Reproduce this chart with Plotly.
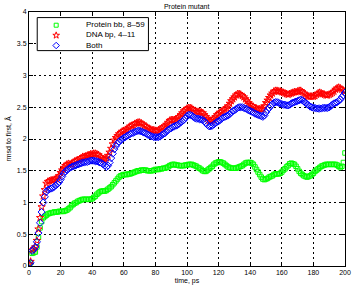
import plotly.graph_objects as go

time_ps = list(range(0, 201))

protein_bb = [
    0.03, 0.05, 0.20, 0.21, 0.22, 0.30, 0.45, 0.60, 0.70, 0.76,   # 0
    0.78, 0.80, 0.82, 0.83, 0.84, 0.84, 0.85, 0.85, 0.85, 0.86,   # 10
    0.86, 0.86, 0.86, 0.87, 0.88, 0.90, 0.92, 0.95, 0.97, 0.99,   # 20
    1.00, 1.02, 1.03, 1.04, 1.05, 1.05, 1.05, 1.05, 1.05, 1.05,   # 30
    1.06, 1.08, 1.10, 1.13, 1.15, 1.17, 1.18, 1.18, 1.18, 1.19,   # 40
    1.21, 1.23, 1.25, 1.28, 1.31, 1.34, 1.37, 1.40, 1.42, 1.43,   # 50
    1.44, 1.44, 1.44, 1.45, 1.45, 1.46, 1.47, 1.48, 1.49, 1.50,   # 60
    1.50, 1.51, 1.51, 1.51, 1.51, 1.50, 1.50, 1.50, 1.50, 1.51,   # 70
    1.52, 1.52, 1.52, 1.53, 1.53, 1.54, 1.54, 1.55, 1.56, 1.58,   # 80
    1.59, 1.60, 1.60, 1.59, 1.59, 1.58, 1.58, 1.58, 1.58, 1.59,   # 90
    1.59, 1.60, 1.60, 1.60, 1.59, 1.58, 1.57, 1.55, 1.54, 1.52,   # 100
    1.50, 1.49, 1.49, 1.51, 1.53, 1.55, 1.57, 1.60, 1.62, 1.63,   # 110
    1.64, 1.64, 1.63, 1.62, 1.60, 1.58, 1.56, 1.55, 1.54, 1.54,   # 120
    1.54, 1.54, 1.55, 1.56, 1.57, 1.58, 1.60, 1.62, 1.63, 1.63,   # 130
    1.63, 1.62, 1.60, 1.56, 1.52, 1.48, 1.44, 1.40, 1.37, 1.36,   # 140
    1.37, 1.38, 1.40, 1.41, 1.42, 1.44, 1.45, 1.45, 1.45, 1.46,   # 150
    1.48, 1.51, 1.53, 1.56, 1.58, 1.61, 1.62, 1.61, 1.60, 1.57,   # 160
    1.53, 1.49, 1.46, 1.44, 1.42, 1.41, 1.40, 1.41, 1.42, 1.44,   # 170
    1.46, 1.49, 1.51, 1.53, 1.55, 1.57, 1.58, 1.59, 1.60, 1.60,   # 180
    1.60, 1.60, 1.60, 1.60, 1.60, 1.59, 1.57, 1.55, 1.57, 1.63,   # 190
    1.78]                                                          # 200

dna_bp = [
    0.03, 0.07, 0.25, 0.27, 0.30, 0.40, 0.58, 0.76, 0.93, 1.10,   # 0
    1.20, 1.30, 1.33, 1.34, 1.35, 1.35, 1.36, 1.37, 1.39, 1.42,   # 10
    1.47, 1.51, 1.55, 1.58, 1.60, 1.61, 1.60, 1.61, 1.63, 1.65,   # 20
    1.66, 1.67, 1.68, 1.70, 1.72, 1.72, 1.73, 1.74, 1.75, 1.76,   # 30
    1.76, 1.77, 1.77, 1.76, 1.75, 1.72, 1.70, 1.68, 1.68, 1.70,   # 40
    1.74, 1.79, 1.85, 1.92, 1.98, 2.02, 2.05, 2.08, 2.10, 2.12,   # 50
    2.13, 2.14, 2.15, 2.18, 2.20, 2.21, 2.22, 2.24, 2.25, 2.26,   # 60
    2.26, 2.25, 2.23, 2.21, 2.20, 2.18, 2.16, 2.15, 2.14, 2.14,   # 70
    2.13, 2.13, 2.14, 2.15, 2.17, 2.19, 2.20, 2.23, 2.26, 2.29,   # 80
    2.30, 2.30, 2.30, 2.31, 2.33, 2.35, 2.38, 2.41, 2.44, 2.46,   # 90
    2.48, 2.49, 2.49, 2.48, 2.46, 2.44, 2.43, 2.43, 2.43, 2.42,   # 100
    2.41, 2.38, 2.35, 2.32, 2.29, 2.29, 2.30, 2.32, 2.35, 2.38,   # 110
    2.40, 2.42, 2.43, 2.45, 2.47, 2.49, 2.52, 2.56, 2.60, 2.63,   # 120
    2.66, 2.69, 2.71, 2.71, 2.70, 2.68, 2.66, 2.63, 2.60, 2.57,   # 130
    2.54, 2.52, 2.51, 2.49, 2.48, 2.47, 2.47, 2.47, 2.48, 2.52,   # 140
    2.57, 2.61, 2.65, 2.69, 2.72, 2.75, 2.76, 2.76, 2.75, 2.75,   # 150
    2.74, 2.73, 2.72, 2.71, 2.70, 2.71, 2.72, 2.73, 2.74, 2.74,   # 160
    2.75, 2.76, 2.76, 2.74, 2.72, 2.70, 2.68, 2.67, 2.67, 2.67,   # 170
    2.67, 2.68, 2.70, 2.72, 2.73, 2.72, 2.71, 2.70, 2.69, 2.69,   # 180
    2.70, 2.71, 2.73, 2.75, 2.78, 2.80, 2.81, 2.80, 2.78, 2.76,   # 190
    2.75]                                                          # 200

both = [
    0.03, 0.05, 0.24, 0.26, 0.30, 0.38, 0.52, 0.68, 0.85, 1.00,   # 0
    1.09, 1.17, 1.20, 1.21, 1.22, 1.23, 1.25, 1.27, 1.29, 1.32,   # 10
    1.36, 1.41, 1.46, 1.49, 1.51, 1.53, 1.55, 1.56, 1.57, 1.58,   # 20
    1.59, 1.60, 1.61, 1.62, 1.63, 1.63, 1.64, 1.64, 1.65, 1.66,   # 30
    1.66, 1.66, 1.65, 1.65, 1.64, 1.63, 1.62, 1.60, 1.58, 1.56,   # 40
    1.58, 1.63, 1.70, 1.77, 1.84, 1.89, 1.93, 1.96, 1.98, 2.00,   # 50
    2.02, 2.03, 2.05, 2.06, 2.08, 2.09, 2.10, 2.11, 2.12, 2.13,   # 60
    2.13, 2.12, 2.11, 2.10, 2.09, 2.07, 2.06, 2.05, 2.04, 2.03,   # 70
    2.03, 2.03, 2.03, 2.04, 2.06, 2.08, 2.09, 2.12, 2.14, 2.16,   # 80
    2.17, 2.19, 2.20, 2.21, 2.22, 2.24, 2.26, 2.28, 2.30, 2.33,   # 90
    2.36, 2.38, 2.38, 2.37, 2.35, 2.33, 2.32, 2.32, 2.31, 2.31,   # 100
    2.30, 2.28, 2.25, 2.22, 2.20, 2.20, 2.21, 2.23, 2.25, 2.27,   # 110
    2.28, 2.30, 2.32, 2.34, 2.35, 2.36, 2.37, 2.39, 2.42, 2.44,   # 120
    2.45, 2.47, 2.49, 2.50, 2.50, 2.50, 2.49, 2.48, 2.47, 2.45,   # 130
    2.44, 2.43, 2.42, 2.40, 2.39, 2.38, 2.37, 2.36, 2.35, 2.37,   # 140
    2.42, 2.46, 2.49, 2.52, 2.55, 2.57, 2.58, 2.58, 2.57, 2.56,   # 150
    2.55, 2.54, 2.54, 2.53, 2.53, 2.54, 2.56, 2.57, 2.58, 2.59,   # 160
    2.60, 2.61, 2.62, 2.61, 2.59, 2.57, 2.55, 2.53, 2.51, 2.50,   # 170
    2.49, 2.49, 2.48, 2.48, 2.48, 2.48, 2.49, 2.49, 2.49, 2.49,   # 180
    2.50, 2.52, 2.54, 2.56, 2.57, 2.58, 2.60, 2.62, 2.66, 2.69,   # 190
    2.73]                                                          # 200

series_names = ["Protein bb, 8\u201359", "DNA bp, 4\u201311", "Both"]

x_ticks = list(range(0, 201, 20))
y_ticks = [0, 0.5, 1, 1.5, 2, 2.5, 3, 3.5, 4]
y_tick_labels = ["0", "0.5", "1", "1.5", "2", "2.5", "3", "3.5", "4"]

FONT = "Liberation Sans"
colors = ["#00ff00", "#ff0000", "#0000ff"]
symbols = ["square-open", "star-open", "diamond-open"]
sizes = [4.5, 5.5, 5.5]
legend_sizes = [4, 5, 5]

fig = go.Figure()
for name, vals, c, s, sz in zip(series_names, [protein_bb, dna_bp, both], colors, symbols, sizes):
    fig.add_trace(go.Scatter(x=time_ps, y=vals, mode="markers", name=name,
                             marker=dict(symbol=s, size=sz, color=c,
                                         line=dict(width=1, color=c))))

# custom compact legend (matlab style) on an invisible overlay axis spanning the plot area
box_x = [0.026, 0.378, 0.378, 0.026, 0.026]
box_y = [0.848, 0.848, 0.978, 0.978, 0.848]
fig.add_trace(go.Scatter(x=box_x, y=box_y, xaxis="x2", yaxis="y2", mode="lines",
                         fill="toself", fillcolor="white", line=dict(color="black", width=1),
                         showlegend=False, hoverinfo="skip"))
leg_x_marker = 0.086
leg_x_text = 0.178
leg_rows = [0.948, 0.908, 0.868]
for c, s, sz, yy in zip(colors, symbols, legend_sizes, leg_rows):
    fig.add_trace(go.Scatter(x=[leg_x_marker], y=[yy], xaxis="x2", yaxis="y2", mode="markers",
                             showlegend=False, hoverinfo="skip",
                             marker=dict(symbol=s, size=sz, color=c, line=dict(width=1, color=c))))
fig.add_annotation(x=leg_x_text, y=leg_rows[1], xref="paper", yref="paper",
                   text="<br>".join(series_names), align="left",
                   showarrow=False, xanchor="left", yanchor="middle", borderpad=0,
                   font=dict(family=FONT, size=8, color="black"))

axis_common = dict(showline=True, linecolor="black", linewidth=1, mirror="ticks",
                   ticks="inside", ticklen=4, tickcolor="black",
                   showgrid=True, gridcolor="black", gridwidth=1, griddash="2px,3px",
                   zeroline=False, tickfont=dict(family=FONT, size=7, color="black"))

fig.update_layout(
    width=359, height=291,
    margin=dict(l=23, r=8, t=11, b=20),
    paper_bgcolor="white", plot_bgcolor="white",
    font=dict(family=FONT, size=7, color="black"),
    title=dict(text="Protein mutant", x=0.52, xanchor="center", y=0.985, yanchor="top",
               font=dict(family=FONT, size=7, color="black")),
    xaxis=dict(range=[0, 200], tickvals=x_ticks,
               title=dict(text="time, ps", standoff=2, font=dict(family=FONT, size=7)),
               **axis_common),
    yaxis=dict(range=[0, 4], tickvals=y_ticks, ticktext=y_tick_labels,
               title=dict(text="rmsd to first, \u00c5", standoff=4, font=dict(family=FONT, size=7)),
               **axis_common),
    xaxis2=dict(overlaying="x", range=[0, 1], visible=False, fixedrange=True),
    yaxis2=dict(overlaying="y", range=[0, 1], visible=False, fixedrange=True),
    showlegend=False,
)

fig.write_html("out.html")
